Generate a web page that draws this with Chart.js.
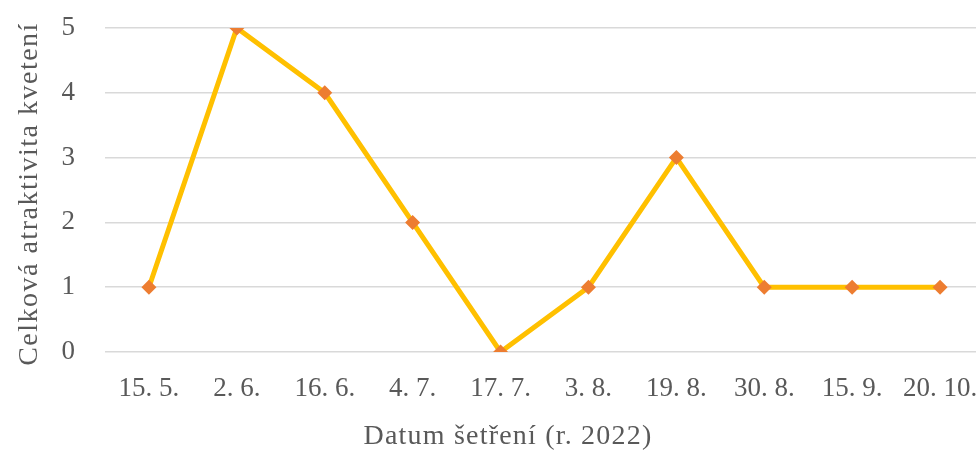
<!DOCTYPE html>
<html>
<head>
<meta charset="utf-8">
<script src="https://cdn.jsdelivr.net/npm/chart.js@4/dist/chart.umd.min.js"></script>
<style>
  html, body { margin: 0; padding: 0; background: #ffffff; overflow: hidden; }
  canvas { display: block; }
</style>
</head>
<body>
<canvas id="chart" width="984" height="451"></canvas>
<script>
// Survey dates (2022) and overall flowering attractiveness score
const dates = ['15. 5.', '2. 6.', '16. 6.', '4. 7.', '17. 7.', '3. 8.', '19. 8.', '30. 8.', '15. 9.', '20. 10.'];
const attractiveness = [1, 5, 4, 2, 0, 1, 3, 1, 1, 1];
const yTicks = [0, 1, 2, 3, 4, 5];
const xTitle = 'Datum šetření (r. 2022)';
const yTitle = 'Celková atraktivita kvetení';

const textColor = '#595959';
const serif = "'Liberation Serif', 'Times New Roman', serif";

// Axis titles drawn as canvas text so they can sit off the plot-area centre
const axisTitles = {
  id: 'axisTitles',
  afterDraw(chart, args, opts) {
    const ctx = chart.ctx;
    ctx.save();
    ctx.fillStyle = opts.color;
    ctx.font = opts.font;
    ctx.textAlign = 'center';
    ctx.textBaseline = 'middle';
    if ('letterSpacing' in ctx) ctx.letterSpacing = opts.xSpacing;
    ctx.fillText(opts.x.text, opts.x.cx, opts.x.cy);
    if ('letterSpacing' in ctx) ctx.letterSpacing = opts.ySpacing;
    ctx.translate(opts.y.cx, opts.y.cy);
    ctx.rotate(-Math.PI / 2);
    ctx.fillText(opts.y.text, 0, 0);
    ctx.restore();
  }
};

new Chart(document.getElementById('chart'), {
  type: 'line',
  data: {
    labels: dates,
    datasets: [{
      data: attractiveness,
      borderColor: '#FFC000',
      borderWidth: 5,
      pointStyle: 'rectRot',
      pointRadius: 7.5,
      pointBackgroundColor: '#ED7D31',
      pointBorderColor: '#ED7D31',
      pointBorderWidth: 0,
      tension: 0,
      fill: false
    }]
  },
  plugins: [axisTitles],
  options: {
    responsive: false,
    animation: false,
    devicePixelRatio: 1,
    layout: { autoPadding: false, padding: { top: 28, right: 0, bottom: 0, left: 0 } },
    plugins: {
      legend: { display: false },
      tooltip: { enabled: false },
      axisTitles: {
        color: textColor,
        font: "28px " + serif,
        xSpacing: '1.2px',
        ySpacing: '1.5px',
        x: { text: xTitle, cx: 508, cy: 437 },
        y: { text: yTitle, cx: 30, cy: 194 }
      }
    },
    scales: {
      x: {
        offset: true,
        grid: { display: false, drawTicks: true, tickLength: 21 },
        border: { display: false },
        ticks: { color: textColor, font: { family: serif, size: 27 }, padding: 0, maxRotation: 0, autoSkip: false },
        afterFit: (s) => { s.height = 99; s.paddingLeft = 0; s.paddingRight = 0; }
      },
      y: {
        min: 0,
        max: 5,
        afterBuildTicks: (s) => { s.ticks = yTicks.map(v => ({ value: v })); },
        grid: { color: '#D9D9D9', lineWidth: 1.5, drawTicks: true, tickLength: 30, tickColor: 'rgba(0,0,0,0)' },
        border: { display: false },
        ticks: { color: textColor, font: { family: serif, size: 27 }, padding: 0 },
        afterFit: (s) => { s.width = 105; }
      }
    }
  }
});
</script>
</body>
</html>
